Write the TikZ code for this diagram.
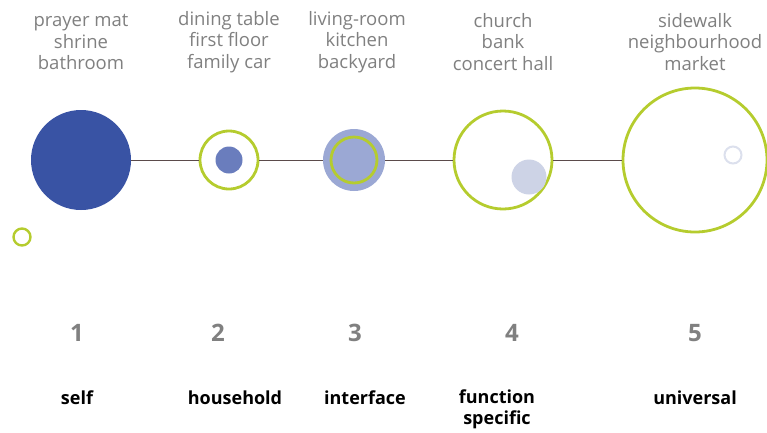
\documentclass[tikz,border=0pt]{standalone}
\usepackage{fontspec}
\setmainfont{Open Sans}
\usepackage{tikz}
\definecolor{deepblue}{HTML}{3953A4}
\definecolor{midblue}{HTML}{6A7DBD}
\definecolor{paleblue}{HTML}{9BA8D4}
\definecolor{mistblue}{HTML}{CDD3E6}
\definecolor{ringgreen}{HTML}{B5CC2E}
\definecolor{linkbrown}{HTML}{5B4B4B}
\definecolor{textgray}{HTML}{808080}

\begin{document}
\begin{tikzpicture}[x=1pt,y=-1pt,
  disc/.style={circle,inner sep=0pt},
  ring/.style={circle,inner sep=0pt,draw=ringgreen,line width=2.8pt},
  place/.style={align=center,text=textgray,font=\fontsize{18.5}{21.5}\selectfont},
  num/.style={text=textgray,font=\fontsize{24}{26}\selectfont\bfseries},
  scale label/.style={align=center,font=\fontsize{18}{21}\selectfont\bfseries}]
  \useasboundingbox (0,0) rectangle (767,432);
  \node[disc,fill=deepblue,minimum size=100pt] (c1) at (81,160) {};
  \node[ring,minimum size=58pt] (c2) at (229,160) {};
  \node[disc,fill=midblue,minimum size=27pt] (d2) at (229,160) {};
  \node[disc,fill=paleblue,minimum size=62pt] (c3) at (354,160) {};
  \node[ring,minimum size=46pt] (r3) at (354,160) {};
  \node[ring,minimum size=98pt] (c4) at (503,160) {};
  \node[disc,fill=mistblue,minimum size=35pt] (d4) at (529,177) {};
  \node[ring,minimum size=144pt] (c5) at (695,160) {};
  \node[disc,draw=mistblue!70,line width=2pt,minimum size=17pt] (d5) at (733,155) {};
  \node[ring,line width=2.4pt,minimum size=17pt] (dot) at (22,237) {};
  \draw[linkbrown,line width=1pt] (c1) -- (c2) (c2) -- (c3) (c3) -- (c4) (c4) -- (c5);
  \node[place] (p1) at (81,42) {prayer mat\\shrine\\bathroom};
  \node[place] (p2) at (229,42) {dining table\\first floor\\family car};
  \node[place] (p3) at (357,42) {living-room\\kitchen\\backyard};
  \node[place] (p4) at (503,42) {church\\bank\\concert hall};
  \node[place] (p5) at (695,42) {sidewalk\\neighbourhood\\market};
  \node[num] (n1) at (77,333) {1};
  \node[num] (n2) at (218,333) {2};
  \node[num] (n3) at (355,333) {3};
  \node[num] (n4) at (512,333) {4};
  \node[num] (n5) at (695,333) {5};
  \node[scale label] (s1) at (77,398) {self};
  \node[scale label] (s2) at (235,398) {household};
  \node[scale label] (s3) at (365,398) {interface};
  \node[scale label] (s4) at (497,409) {function\\specific};
  \node[scale label] (s5) at (695,398) {universal};
\end{tikzpicture}
\end{document}
